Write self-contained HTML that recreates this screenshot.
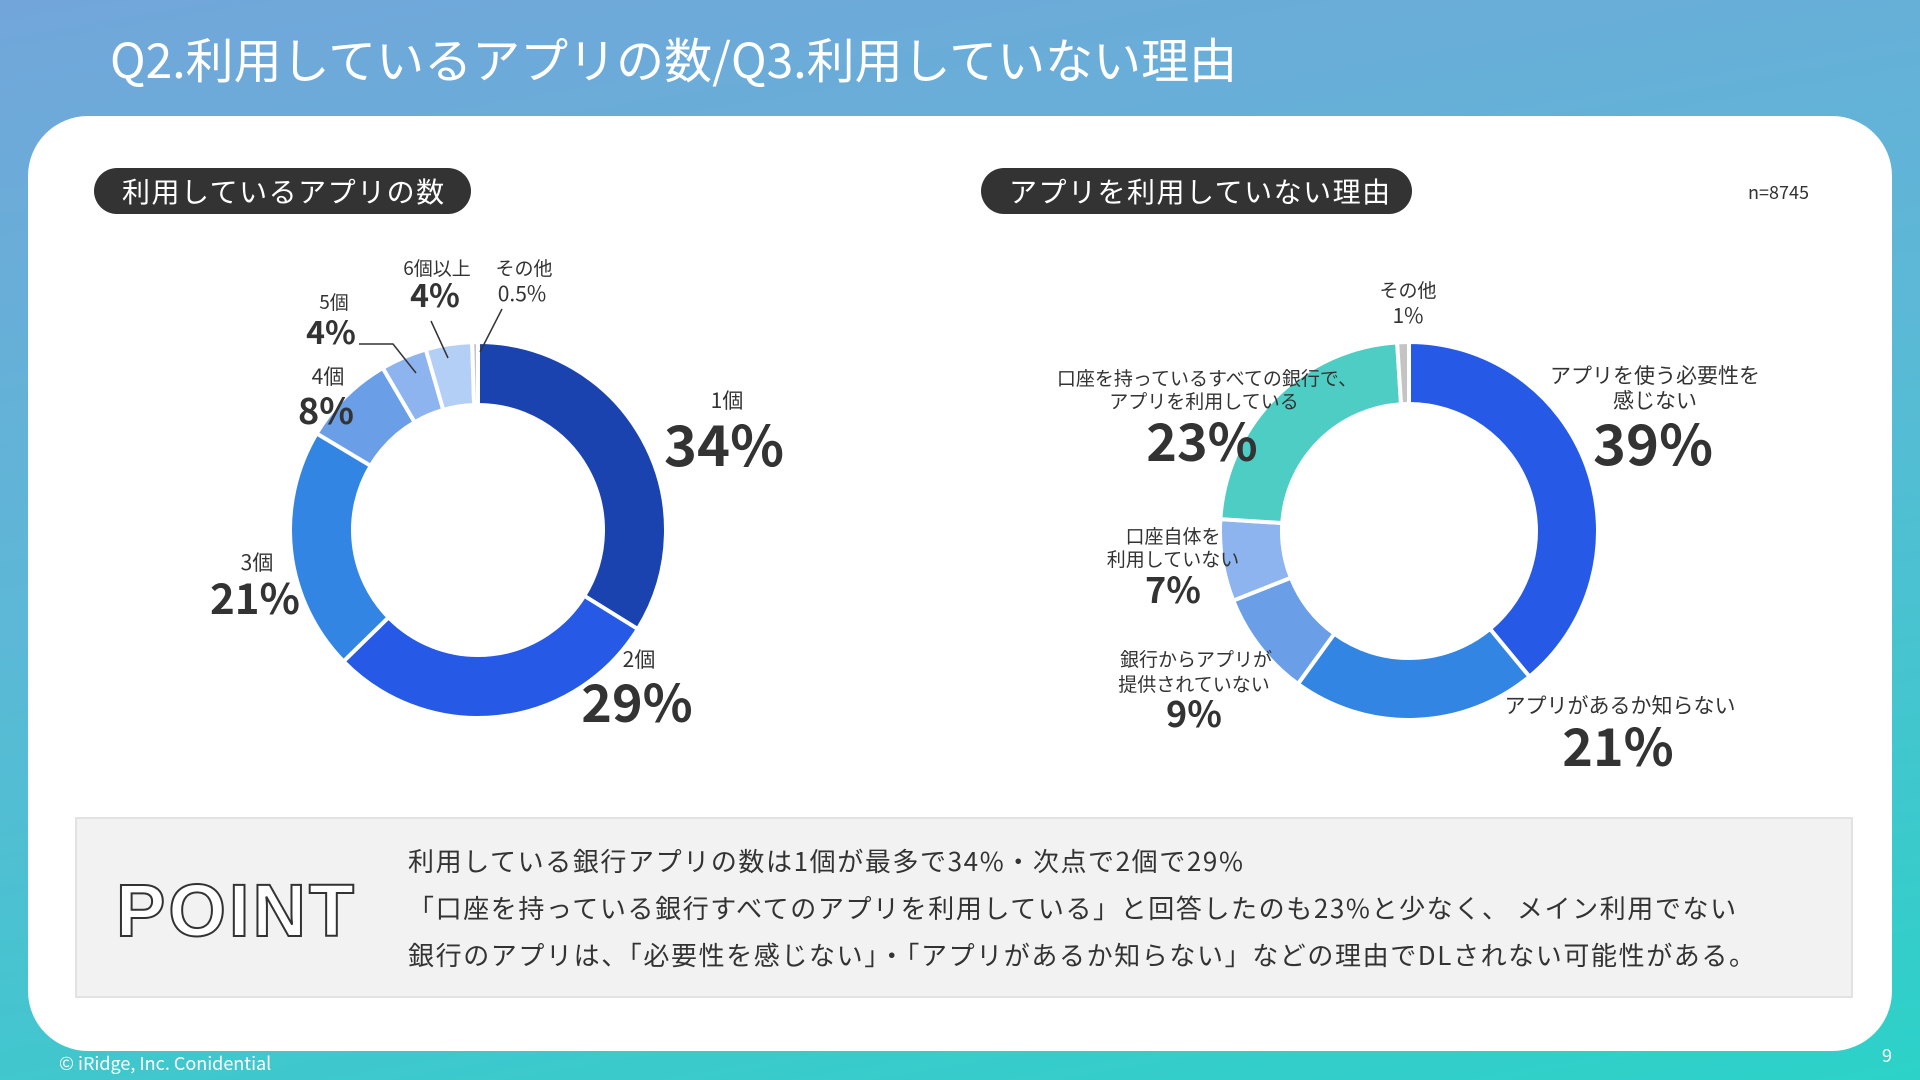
<!DOCTYPE html>
<html><head><meta charset="utf-8">
<style>
*{margin:0;padding:0;box-sizing:border-box}
body{width:1920px;height:1080px;overflow:hidden;font-family:"Noto Sans CJK JP","Liberation Sans",sans-serif;background:linear-gradient(170deg,#72a6da 0%,#5cb8d6 45%,#2cd2c8 100%);position:relative;color:#333}
.abs{position:absolute}
#title{left:110px;top:22px;font-size:48px;color:#fff;white-space:nowrap}
#card{left:28px;top:116px;width:1864px;height:935px;background:#fff;border-radius:60px}
.pill{background:#333;color:#fff;font-size:28px;letter-spacing:1.5px;height:46px;line-height:46px;border-radius:23px;top:168px;padding-left:28px;white-space:nowrap}
#point{left:75px;top:817px;width:1778px;height:181px;background:#f2f2f2;border:2px solid #e2e2e2}
#pointword{left:116px;top:868px;font-size:74px;font-weight:bold;color:#fff;-webkit-text-stroke:2px #333;letter-spacing:3px;font-family:"Liberation Sans",sans-serif}
.pt{left:408px;font-size:26px;white-space:nowrap;color:#333;letter-spacing:1.6px}
#footer{left:59px;top:1050px;font-size:18px;color:#fff}
#pg{left:1882px;top:1042px;font-size:18px;color:#fff}
svg{position:absolute;left:0;top:0}
</style></head><body>
<div class="abs" id="title">Q2.利用しているアプリの数/Q3.利用していない理由</div>
<div class="abs" id="card"></div>
<div class="abs pill" style="left:94px;width:377px">利用しているアプリの数</div>
<div class="abs pill" style="left:981px;width:431px">アプリを利用していない理由</div>
<div class="abs" style="left:1748px;top:179px;font-size:18px">n=8745</div>
<svg id="chart" width="1920" height="1080"></svg>
<div class="abs" id="point"></div>
<div class="abs" id="pointword">POINT</div>
<div class="abs pt" style="top:842px">利用している銀行アプリの数は1個が最多で34%・次点で2個で29%</div>
<div class="abs pt" style="top:889px">「口座を持っている銀行すべてのアプリを利用している」と回答したのも23%と少なく、 メイン利用でない</div>
<div class="abs pt" style="top:936px">銀行のアプリは、「必要性を感じない」・「アプリがあるか知らない」などの理由でDLされない可能性がある。</div>
<div class="abs" id="footer">© iRidge, Inc. Conidential</div>
<div class="abs" id="pg">9</div>
<script>
const leftCategories=["1個","2個","3個","4個","5個","6個以上","その他"];
const leftValues=[34,29,21,8,4,4,0.5];
const leftColors=["#1a43b0","#2659e5","#3385e3","#6a9ee6","#8db4ee","#b3cff5","#c4c4c4"];
const rightCategories=["アプリを使う必要性を感じない","アプリがあるか知らない","銀行からアプリが提供されていない","口座自体を利用していない","口座を持っているすべての銀行で、アプリを利用している","その他"];
const rightValues=[39,21,9,7,23,1];
const rightColors=["#2659e5","#3385e3","#6a9ee6","#8db4ee","#4ecdc4","#c4c4c4"];
const NS="http://www.w3.org/2000/svg";
const svg=document.getElementById('chart');
function arcPath(cx,cy,r0,r1,a0,a1){
  const p=(r,a)=>[cx+r*Math.sin(a),cy-r*Math.cos(a)];
  const big=(a1-a0)>Math.PI?1:0;
  const [x1,y1]=p(r1,a0),[x2,y2]=p(r1,a1),[x3,y3]=p(r0,a1),[x4,y4]=p(r0,a0);
  return `M${x1},${y1}A${r1},${r1} 0 ${big} 1 ${x2},${y2}L${x3},${y3}A${r0},${r0} 0 ${big} 0 ${x4},${y4}Z`;
}
function donut(cx,cy,r0,r1,vals,cols,prefix){
  const tot=vals.reduce((a,b)=>a+b,0);let a=0;
  vals.forEach((v,i)=>{
    const a0=a/tot*2*Math.PI;a+=v;const a1=a/tot*2*Math.PI;
    const el=document.createElementNS(NS,'path');
    el.setAttribute('d',arcPath(cx,cy,r0,r1,a0,a1));
    el.setAttribute('fill',cols[i]);el.setAttribute('stroke','#fff');el.setAttribute('stroke-width','4');
    
    
    svg.appendChild(el);
  });
}
donut(478,530,125,188,leftValues,leftColors,'left');
donut(1409,531,127,189,rightValues,rightColors,'right');
function txt(x,y,s,size,bold){
  const t=document.createElementNS(NS,'text');
  t.setAttribute('x',x);t.setAttribute('y',y);t.setAttribute('text-anchor','middle');
  t.setAttribute('font-size',size);t.setAttribute('fill','#333');
  if(bold)t.setAttribute('font-weight','bold');
  t.setAttribute('font-family','"Noto Sans CJK JP","Liberation Sans",sans-serif');
  t.textContent=s;
  
  
  svg.appendChild(t);
}
const pct=v=>v+'%';
txt(727,408,leftCategories[0],21);txt(724,466,pct(leftValues[0]),56,1);
txt(639,667,leftCategories[1],21);txt(637,722,pct(leftValues[1]),52,1);
txt(257,570,leftCategories[2],21);txt(255,614,pct(leftValues[2]),42,1);
txt(328,384,leftCategories[3],21);txt(326,424,pct(leftValues[3]),36,1);
txt(334,309,leftCategories[4],19);txt(331,344,pct(leftValues[4]),32,1);
txt(437,275,leftCategories[5],19);txt(435,307,pct(leftValues[5]),32,1);
txt(524,275,leftCategories[6],19);txt(522,301,pct(leftValues[6]),21);
function line(pts){
  const l=document.createElementNS(NS,'polyline');
  l.setAttribute('points',pts);l.setAttribute('fill','none');l.setAttribute('stroke','#333');l.setAttribute('stroke-width','1.5');
  
  
  svg.appendChild(l);
}
line("359,344 393,344 416,373");line("431,321 448,358");line("502,309 480,352");
txt(1408,297,rightCategories[5],19);txt(1408,323,pct(rightValues[5]),21);
txt(1655,383,"アプリを使う必要性を",21);txt(1655,408,"感じない",21);txt(1653,465,pct(rightValues[0]),56,1);
txt(1620,713,rightCategories[1],21);txt(1618,766,pct(rightValues[1]),52,1);
txt(1196,666,"銀行からアプリが",19);txt(1194,691,"提供されていない",19);txt(1194,727,pct(rightValues[2]),36,1);
txt(1173,543,"口座自体を",19);txt(1173,566,"利用していない",19);txt(1173,603,pct(rightValues[3]),36,1);
txt(1207,385,"口座を持っているすべての銀行で、",19);txt(1204,408,"アプリを利用している",19);txt(1202,461,pct(rightValues[4]),52,1);
</script>
</body></html>
